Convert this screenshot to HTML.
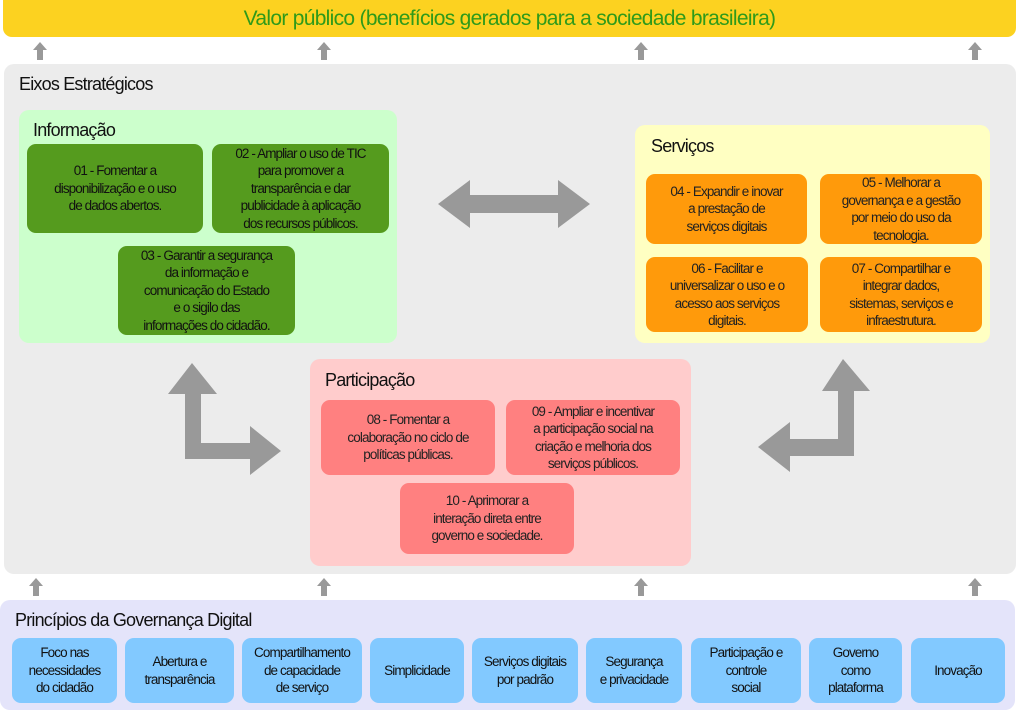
<!DOCTYPE html>
<html><head><meta charset="utf-8"><style>
body{margin:0;width:1018px;height:712px;position:relative;background:#fff;font-family:"Liberation Sans",sans-serif;overflow:hidden}
.a{position:absolute;box-sizing:border-box}
.b{position:absolute;box-sizing:border-box;display:flex;align-items:center;justify-content:center;text-align:center;font-size:13.5px;line-height:17.5px;letter-spacing:-0.9px;border-radius:9px;white-space:nowrap}
.t{position:absolute;font-size:18px;letter-spacing:-0.8px;color:#111}
.g{background:#559b1e;color:#111}
.o{background:#ff9a0b;color:#222}
.r{background:#ff8080;color:#222}
.p{background:#82c9ff;color:#111}
</style></head><body>
<div class="a" style="left:3px;top:0;width:1013px;height:37px;background:#fcd220;border-radius:0 0 9px 9px;color:#2f9a1a;font-size:21px;letter-spacing:-0.7px;text-align:center;line-height:37px">Valor público (benefícios gerados para a sociedade brasileira)</div>
<div class="a" style="left:4px;top:64px;width:1012px;height:510px;background:#ececec;border-radius:10px"></div>
<div class="t" style="left:19px;top:74px">Eixos Estratégicos</div>
<div class="a" style="left:19px;top:110px;width:378px;height:233px;background:#ccffcc;border-radius:10px"></div>
<div class="t" style="left:33px;top:120px">Informação</div>
<div class="b g" style="left:27px;top:144px;width:176px;height:89px">01 - Fomentar a<br>disponibilização e o uso<br>de dados abertos.</div>
<div class="b g" style="left:212px;top:144px;width:177px;height:89px">02 - Ampliar o uso de TIC<br>para promover a<br>transparência e dar<br>publicidade à aplicação<br>dos recursos públicos.</div>
<div class="b g" style="left:118px;top:246px;width:177px;height:89px">03 - Garantir a segurança<br>da informação e<br>comunicação do Estado<br>e o sigilo das<br>informações do cidadão.</div>
<div class="a" style="left:635px;top:125px;width:355px;height:218px;background:#ffffc2;border-radius:10px"></div>
<div class="t" style="left:651px;top:136px">Serviços</div>
<div class="b o" style="left:646px;top:174px;width:161px;height:70px">04 - Expandir e inovar<br>a prestação de<br>serviços digitais</div>
<div class="b o" style="left:820px;top:174px;width:162px;height:70px">05 - Melhorar a<br>governança e a gestão<br>por meio do uso da<br>tecnologia.</div>
<div class="b o" style="left:646px;top:257px;width:162px;height:75px">06 - Facilitar e<br>universalizar o uso e o<br>acesso aos serviços<br>digitais.</div>
<div class="b o" style="left:820px;top:257px;width:162px;height:75px">07 - Compartilhar e<br>integrar dados,<br>sistemas, serviços e<br>infraestrutura.</div>
<div class="a" style="left:310px;top:359px;width:381px;height:207px;background:#ffcccc;border-radius:10px"></div>
<div class="t" style="left:325px;top:370px">Participação</div>
<div class="b r" style="left:321px;top:400px;width:174px;height:75px">08 - Fomentar a<br>colaboração no ciclo de<br>políticas públicas.</div>
<div class="b r" style="left:506px;top:400px;width:174px;height:75px">09 - Ampliar e incentivar<br>a participação social na<br>criação e melhoria dos<br>serviços públicos.</div>
<div class="b r" style="left:400px;top:483px;width:174px;height:71px">10 - Aprimorar a<br>interação direta entre<br>governo e sociedade.</div>
<div class="a" style="left:0;top:600px;width:1015px;height:110px;background:#e4e4fa;border-radius:10px"></div>
<div class="t" style="left:15px;top:610px">Princípios da Governança Digital</div>
<div class="b p" style="left:12px;top:638px;width:105px;height:65px">Foco nas<br>necessidades<br>do cidadão</div>
<div class="b p" style="left:125px;top:638px;width:109px;height:65px">Abertura e<br>transparência</div>
<div class="b p" style="left:242px;top:638px;width:120px;height:65px">Compartilhamento<br>de capacidade<br>de serviço</div>
<div class="b p" style="left:370px;top:638px;width:94px;height:65px">Simplicidade</div>
<div class="b p" style="left:472px;top:638px;width:106px;height:65px">Serviços digitais<br>por padrão</div>
<div class="b p" style="left:586px;top:638px;width:96px;height:65px">Segurança<br>e privacidade</div>
<div class="b p" style="left:691px;top:638px;width:110px;height:65px">Participação e<br>controle<br>social</div>
<div class="b p" style="left:809px;top:638px;width:93px;height:65px">Governo<br>como<br>plataforma</div>
<div class="b p" style="left:911px;top:638px;width:94px;height:65px">Inovação</div>
<svg class="a" style="left:0;top:0" width="1018" height="712">
<g fill="#999">
<path d="M33 50 L40 42 L47 50 L43 50 L43 60 L37 60 L37 50Z"/>
<path d="M317 50 L324 42 L331 50 L327 50 L327 60 L321 60 L321 50Z"/>
<path d="M634 50 L641 42 L648 50 L644 50 L644 60 L638 60 L638 50Z"/>
<path d="M968 50 L975 42 L982 50 L978 50 L978 60 L972 60 L972 50Z"/>
<path d="M29 586 L36 578 L43 586 L39 586 L39 596 L33 596 L33 586Z"/>
<path d="M317 586 L324 578 L331 586 L327 586 L327 596 L321 596 L321 586Z"/>
<path d="M634 586 L641 578 L648 586 L644 586 L644 596 L638 596 L638 586Z"/>
<path d="M968 586 L975 578 L982 586 L978 586 L978 596 L972 596 L972 586Z"/>
<path d="M438 204 L470 180 L470 195 L558 195 L558 180 L590 204 L558 228 L558 213 L470 213 L470 228Z"/>
<path d="M192 363 L217 394 L201 394 L201 443 L250 443 L250 426 L281 451 L250 475 L250 459 L185 459 L185 394 L168 394Z"/>
<path d="M843 359 L870 391 L854 391 L854 456 L790 456 L790 472 L758 447 L790 422 L790 439 L838 439 L838 391 L822 391Z"/>
</g></svg>
</body></html>
